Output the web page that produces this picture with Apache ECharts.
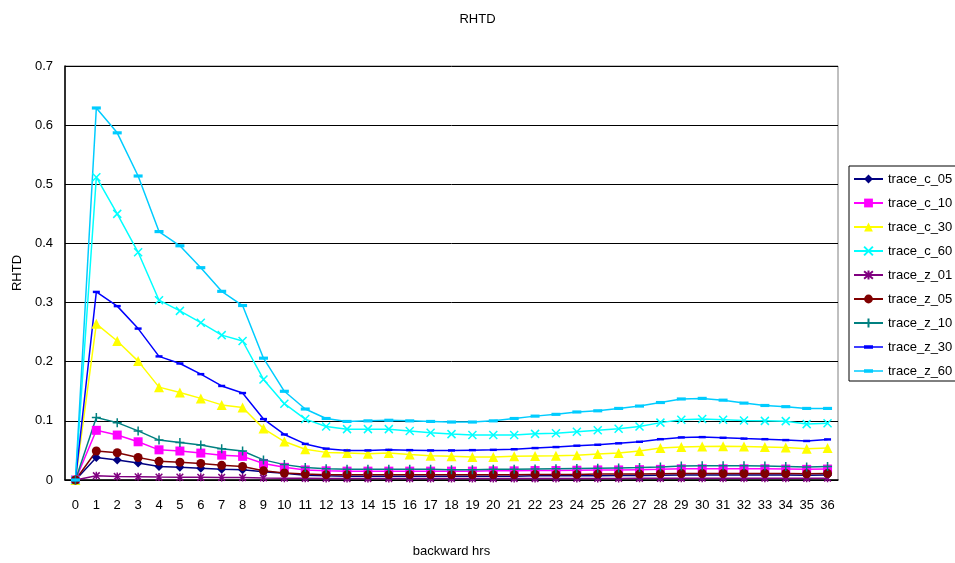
<!DOCTYPE html>
<html>
<head>
<meta charset="utf-8">
<script src="https://cdn.jsdelivr.net/npm/echarts@6/dist/echarts.min.js"></script>
<style>
  html, body { margin: 0; padding: 0; background: #fff; }
  #chart { width: 955px; height: 563px; }
</style>
</head>
<body>
<div id="chart"></div>
<script>
// Hours before arrival (x axis)
const hours = Array.from({ length: 37 }, (_, i) => String(i));

// RHTD per trace
const trace_c_05 = [0, 0.038, 0.034, 0.0287, 0.023, 0.0214, 0.020, 0.018, 0.0174, 0.014, 0.0113, 0.008, 0.007, 0.0065, 0.0065, 0.0065, 0.0065, 0.0065, 0.0065, 0.0065, 0.0065, 0.0065, 0.007, 0.007, 0.007, 0.0072, 0.0074, 0.0075, 0.008, 0.0085, 0.0085, 0.0085, 0.0085, 0.0085, 0.0085, 0.008, 0.0085];
const trace_c_10 = [0, 0.084, 0.076, 0.0646, 0.051, 0.049, 0.0455, 0.042, 0.040, 0.028, 0.0214, 0.017, 0.0155, 0.015, 0.015, 0.015, 0.015, 0.015, 0.015, 0.015, 0.0155, 0.0155, 0.016, 0.016, 0.0165, 0.017, 0.017, 0.0175, 0.018, 0.019, 0.019, 0.019, 0.019, 0.019, 0.0185, 0.018, 0.0185];
const trace_c_30 = [0, 0.264, 0.235, 0.201, 0.157, 0.148, 0.138, 0.127, 0.1226, 0.087, 0.065, 0.052, 0.0467, 0.0455, 0.0444, 0.0455, 0.043, 0.041, 0.040, 0.039, 0.039, 0.040, 0.0405, 0.041, 0.042, 0.044, 0.0455, 0.049, 0.054, 0.056, 0.0566, 0.057, 0.0566, 0.056, 0.055, 0.053, 0.054];
const trace_c_60 = [0, 0.512, 0.450, 0.385, 0.304, 0.286, 0.266, 0.245, 0.235, 0.170, 0.129, 0.103, 0.0905, 0.086, 0.086, 0.086, 0.083, 0.080, 0.0776, 0.076, 0.076, 0.076, 0.078, 0.079, 0.0815, 0.084, 0.0865, 0.0905, 0.097, 0.102, 0.103, 0.102, 0.1005, 0.100, 0.0995, 0.0945, 0.096];
const trace_z_01 = [0, 0.0073, 0.006, 0.0055, 0.005, 0.0048, 0.0046, 0.0044, 0.0042, 0.0035, 0.003, 0.0028, 0.0026, 0.0025, 0.0025, 0.0025, 0.0025, 0.0025, 0.0025, 0.0025, 0.0025, 0.0025, 0.0025, 0.0026, 0.0026, 0.0027, 0.0027, 0.0028, 0.0028, 0.0029, 0.003, 0.003, 0.003, 0.003, 0.003, 0.0029, 0.003];
const trace_z_05 = [0, 0.049, 0.046, 0.038, 0.0315, 0.030, 0.028, 0.0248, 0.023, 0.0157, 0.0118, 0.010, 0.009, 0.009, 0.009, 0.009, 0.009, 0.009, 0.009, 0.009, 0.009, 0.009, 0.0095, 0.0095, 0.0095, 0.010, 0.010, 0.010, 0.0105, 0.011, 0.011, 0.011, 0.011, 0.011, 0.011, 0.0105, 0.011];
const trace_z_10 = [0, 0.1057, 0.097, 0.083, 0.0675, 0.0635, 0.059, 0.053, 0.049, 0.034, 0.026, 0.021, 0.019, 0.018, 0.018, 0.018, 0.018, 0.018, 0.0175, 0.0175, 0.018, 0.018, 0.0185, 0.019, 0.0195, 0.020, 0.0205, 0.021, 0.022, 0.0235, 0.024, 0.024, 0.024, 0.0235, 0.023, 0.022, 0.023];
const trace_z_30 = [0, 0.318, 0.294, 0.256, 0.209, 0.197, 0.179, 0.159, 0.147, 0.103, 0.077, 0.061, 0.053, 0.050, 0.050, 0.051, 0.0505, 0.050, 0.050, 0.0505, 0.051, 0.052, 0.054, 0.0557, 0.058, 0.0596, 0.062, 0.0646, 0.069, 0.072, 0.0725, 0.0714, 0.070, 0.069, 0.0675, 0.066, 0.0686];
const trace_z_60 = [0, 0.629, 0.587, 0.514, 0.420, 0.396, 0.359, 0.319, 0.295, 0.206, 0.150, 0.120, 0.104, 0.099, 0.100, 0.101, 0.100, 0.099, 0.098, 0.098, 0.100, 0.104, 0.108, 0.111, 0.115, 0.117, 0.121, 0.125, 0.131, 0.137, 0.138, 0.135, 0.130, 0.126, 0.124, 0.121, 0.121];

// Y axis ticks
const yMin = 0, yMax = 0.7, yStep = 0.1;

// Marker shapes drawn as stroked paths
const X_MARK = 'path://M0,0L10,10M10,0L0,10';
const PLUS_MARK = 'path://M5,0L5,10M0,5L10,5';
const STAR_MARK = 'path://M0,0L10,10M10,0L0,10M5,-1L5,11';
// Short horizontal dash marker
const DASH_MARK = 'path://M0,0L10,0L10,3.5L0,3.5Z';
// Legend icon for dash-marked series: line segment plus the dash
const DASH_LEGEND = 'path://M0,6.3L29,6.3L29,7.7L0,7.7ZM10,5.3L19,5.3L19,8.7L10,8.7Z';

const FONT = 'Liberation Sans, Arial, sans-serif';

function line(name, data, color, symbol, size, stroked) {
  return {
    name, type: 'line', data,
    symbol, symbolSize: size,
    symbolKeepAspect: true,
    showAllSymbol: true,
    lineStyle: { color, width: 1.5 },
    itemStyle: stroked
      ? { color, borderColor: color, borderWidth: 1.5 }
      : { color, borderWidth: 0 },
    emphasis: { disabled: true },
    animation: false
  };
}

const names = ['trace_c_05', 'trace_c_10', 'trace_c_30', 'trace_c_60', 'trace_z_01',
               'trace_z_05', 'trace_z_10', 'trace_z_30', 'trace_z_60'];

const chart = echarts.init(document.getElementById('chart'), null, { renderer: 'canvas' });
chart.setOption({
  backgroundColor: '#ffffff',
  textStyle: { fontFamily: FONT },
  title: {
    text: 'RHTD', left: 'center', top: 8,
    textStyle: { fontFamily: FONT, fontSize: 13, fontWeight: 'normal', color: '#000' }
  },
  grid: {
    left: 65, right: 117, top: 66, bottom: 82,
    show: true, borderColor: '#808080', borderWidth: 1
  },
  legend: {
    orient: 'vertical', left: 849, top: 166,
    padding: [6, 6, 3, 4],
    itemWidth: 29, itemHeight: 11, itemGap: 10,
    borderColor: '#000', borderWidth: 1,
    symbolKeepAspect: true,
    textStyle: { fontFamily: FONT, fontSize: 13, color: '#000', lineHeight: 14 },
    data: names.map(n => (n === 'trace_z_30' || n === 'trace_z_60')
      ? { name: n, icon: DASH_LEGEND }
      : { name: n })
  },
  xAxis: {
    type: 'category', data: hours, boundaryGap: true,
    name: 'backward hrs', nameLocation: 'middle', nameGap: 65,
    nameTextStyle: { fontFamily: FONT, fontSize: 13, color: '#000' },
    axisLine: { lineStyle: { color: '#000', width: 1.5 } },
    axisTick: { inside: true, length: 4, lineStyle: { color: '#000' } },
    axisLabel: { interval: 0, margin: 19, fontFamily: FONT, fontSize: 13, color: '#000' },
    splitLine: { show: false }
  },
  yAxis: {
    type: 'value', min: yMin, max: yMax, interval: yStep,
    name: 'RHTD', nameLocation: 'middle', nameGap: 41,
    nameTextStyle: { fontFamily: FONT, fontSize: 13, color: '#000' },
    axisLine: { show: true, lineStyle: { color: '#000', width: 1.5 } },
    axisTick: { show: true, inside: true, length: 5, lineStyle: { color: '#000' } },
    axisLabel: { margin: 12, fontFamily: FONT, fontSize: 13, color: '#000',
      formatter: v => String(Math.round(v * 10) / 10) },
    splitLine: { lineStyle: { color: '#000', width: 1 } }
  },
  series: [
    line('trace_c_05', trace_c_05, '#000080', 'diamond', 9, false),
    line('trace_c_10', trace_c_10, '#FF00FF', 'rect', 9, false),
    line('trace_c_30', trace_c_30, '#FFFF00', 'triangle', 10, false),
    line('trace_c_60', trace_c_60, '#00FFFF', X_MARK, 8, true),
    line('trace_z_01', trace_z_01, '#800080', STAR_MARK, 8, true),
    line('trace_z_05', trace_z_05, '#800000', 'circle', 9, false),
    line('trace_z_10', trace_z_10, '#008080', PLUS_MARK, 9, true),
    line('trace_z_30', trace_z_30, '#0000FF', DASH_MARK, 7, false),
    line('trace_z_60', trace_z_60, '#00CCFF', DASH_MARK, 9, false)
  ]
});
</script>
</body>
</html>
